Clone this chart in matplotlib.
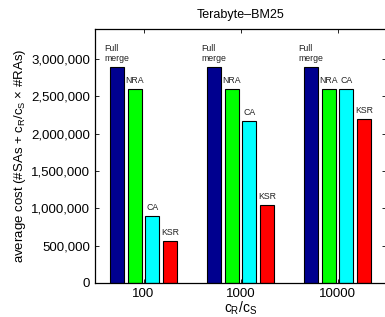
import numpy as np
import matplotlib
matplotlib.use("Agg")
import matplotlib.pyplot as plt
from matplotlib.ticker import FuncFormatter

plt.rcParams['font.family'] = ['Liberation Sans', 'DejaVu Sans']
plt.rcParams['mathtext.fontset'] = 'custom'
plt.rcParams['mathtext.rm'] = 'Liberation Sans'
plt.rcParams['mathtext.it'] = 'Liberation Sans'

ratios = ['100', '1000', '10000']
methods = ['Full\nmerge', 'NRA', 'CA', 'KSR']
full_merge = [2890000, 2890000, 2890000]
nra = [2600000, 2600000, 2600000]
ca = [895000, 2165000, 2600000]
ksr = [565000, 1040000, 2190000]
colors = ['#00008f', '#00ff00', '#00ffff', '#ff0000']

series = [full_merge, nra, ca, ksr]

fig = plt.figure(figsize=(3.85, 3.17), dpi=100)
ax = fig.add_axes([0.2468, 0.1073, 0.7558, 0.8012])

x = np.arange(1, len(ratios) + 1)
gw = min(0.8, 4 / (4 + 1.5))
bw = gw / 4 * 0.8
for i, (vals, c) in enumerate(zip(series, colors)):
    off = (i - 1.5) * gw / 4
    bars = ax.bar(x + off, vals, width=bw, color=c, edgecolor='black', linewidth=0.8, zorder=2)
    for b, v in zip(bars, vals):
        ax.annotate(methods[i], (b.get_x() + b.get_width() / 2, v), xytext=(0, 3),
                    textcoords='offset points', ha='center', va='bottom',
                    multialignment='left', fontsize=6.3, color='#222222')

ax.set_xlim(0.5, 3.5)
ax.set_ylim(0, 3400000)
ax.set_xticks(x)
ax.set_xticklabels(ratios)
ax.set_yticks(np.arange(0, 3000001, 500000))
ax.yaxis.set_major_formatter(FuncFormatter(lambda v, p: f'{int(v):,}'))
ax.tick_params(direction='in', top=True, right=True, labelsize=9.5, length=3, width=0.6)
for s in ax.spines.values():
    s.set_linewidth(0.9)

ax.set_title('Terabyte\u2013BM25', fontsize=9, pad=8)
ax.set_xlabel('$c_R/c_S$', fontsize=10, labelpad=0)
ax.set_ylabel('average cost (#SAs + $c_R/c_S$ \u00d7 #RAs)', fontsize=9.5, labelpad=2)

fig.savefig('out.png', dpi=100)
